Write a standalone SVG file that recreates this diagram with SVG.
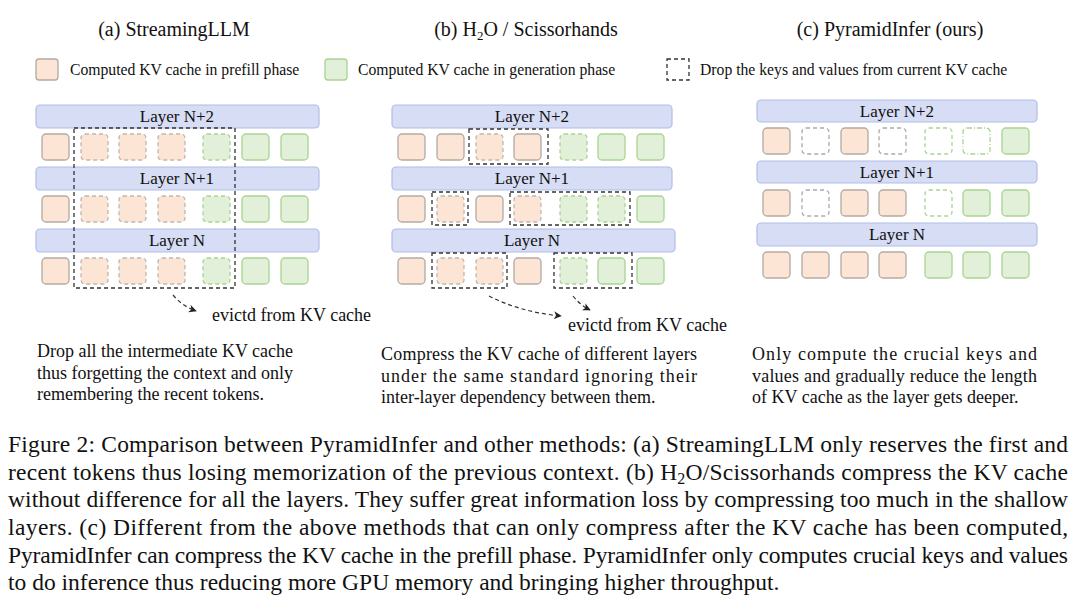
<svg xmlns="http://www.w3.org/2000/svg" width="1080" height="603" viewBox="0 0 1080 603" font-family="Liberation Serif, Tinos, Times New Roman, serif">
<style>
text{font-family:'Liberation Serif','Times New Roman',Tinos,serif;fill:#111}
.t{font-size:20px;text-anchor:middle}
.lg{font-size:15.7px}
.bar{fill:#d6ddf4;stroke:#b0bde8;stroke-width:1.2}
.bl{font-size:17px;text-anchor:middle}
.o{fill:#fce5d5;stroke:#b3aaa4;stroke-width:1.3}
.od{fill:#fce5d5;stroke:#c0b6b0;stroke-width:1.3;stroke-dasharray:4 3}
.g{fill:#e2f0d9;stroke:#a8d592;stroke-width:1.3}
.gd{fill:#e2f0d9;stroke:#a8d592;stroke-width:1.3;stroke-dasharray:4 3}
.ed{fill:#fff;stroke:#aaa;stroke-width:1.3;stroke-dasharray:4 3}
.egd{fill:#fff;stroke:#a8d592;stroke-width:1.3;stroke-dasharray:4 3}
.egdd{fill:#fff;stroke:#a8d592;stroke-width:1.3;stroke-dasharray:5 2 1 2}
.box{fill:none;stroke:#333;stroke-width:1.3;stroke-dasharray:4 3}
.ar{fill:none;stroke:#333;stroke-width:1.2;stroke-dasharray:4 3;marker-end:url(#ah)}
.p{font-size:18px}
.c{font-size:23.5px}
</style>
<defs>
<marker id="ah" viewBox="0 0 10 10" refX="9" refY="5" markerWidth="8" markerHeight="8" orient="auto" markerUnits="userSpaceOnUse"><path d="M0,0 L10,5 L0,10 L3,5 z" fill="#222"/></marker>
<rect id="sq" width="27" height="26" rx="4"/>
</defs>
<g id="titles">
<text class="t" x="174" y="36">(a) StreamingLLM</text>
<text class="t" x="526" y="36">(b) H<tspan font-size="13" dy="4">2</tspan><tspan dy="-4">O / Scissorhands</tspan></text>
<text class="t" x="890" y="36">(c) PyramidInfer (ours)</text>
</g>
<g id="legend">
<rect class="o" x="36" y="59" width="22" height="21" rx="3"/>
<text class="lg" x="70" y="75">Computed KV cache in prefill phase</text>
<rect class="g" x="325" y="59" width="22" height="21" rx="3"/>
<text class="lg" x="358" y="75">Computed KV cache in generation phase</text>
<rect class="box" x="667" y="59" width="22" height="21"/>
<text class="lg" x="700" y="75">Drop the keys and values from current KV cache</text>
</g>
<g id="panel-a">
<rect class="bar" x="36" y="105" width="283" height="23" rx="4"/><text class="bl" x="177" y="122">Layer N+2</text>
<rect class="bar" x="36" y="167" width="283" height="23" rx="4"/><text class="bl" x="177" y="184">Layer N+1</text>
<rect class="bar" x="36" y="229" width="283" height="23" rx="4"/><text class="bl" x="177" y="246">Layer N</text>
<g id="a-rows">
<use href="#sq" class="o" x="42" y="134"/><use href="#sq" class="od" x="81" y="134"/><use href="#sq" class="od" x="119" y="134"/><use href="#sq" class="od" x="158" y="134"/><use href="#sq" class="gd" x="203" y="134"/><use href="#sq" class="g" x="242" y="134"/><use href="#sq" class="g" x="281" y="134"/>
<use href="#sq" class="o" x="42" y="196"/><use href="#sq" class="od" x="81" y="196"/><use href="#sq" class="od" x="119" y="196"/><use href="#sq" class="od" x="158" y="196"/><use href="#sq" class="gd" x="203" y="196"/><use href="#sq" class="g" x="242" y="196"/><use href="#sq" class="g" x="281" y="196"/>
<use href="#sq" class="o" x="42" y="258"/><use href="#sq" class="od" x="81" y="258"/><use href="#sq" class="od" x="119" y="258"/><use href="#sq" class="od" x="158" y="258"/><use href="#sq" class="gd" x="203" y="258"/><use href="#sq" class="g" x="242" y="258"/><use href="#sq" class="g" x="281" y="258"/>
</g>
<rect class="box" x="74" y="128" width="161" height="160"/>
<text x="212" y="321" font-size="18">evictd from KV cache</text>
<text class="p" x="37" y="357">Drop all the intermediate KV cache</text>
<text class="p" x="37" y="379">thus forgetting the context and only</text>
<text class="p" x="37" y="400">remembering the recent tokens.</text>
</g>
<g id="panel-b">
<rect class="bar" x="392" y="105" width="280" height="23" rx="4"/><text class="bl" x="532" y="122">Layer N+2</text>
<rect class="bar" x="392" y="167" width="280" height="23" rx="4"/><text class="bl" x="532" y="184">Layer N+1</text>
<rect class="bar" x="392" y="229" width="283" height="23" rx="4"/><text class="bl" x="532" y="246">Layer N</text>
<use href="#sq" class="o" x="398" y="134"/><use href="#sq" class="o" x="437" y="134"/><use href="#sq" class="od" x="476" y="134"/><use href="#sq" class="o" x="514" y="134"/><use href="#sq" class="gd" x="560" y="134"/><use href="#sq" class="g" x="598" y="134"/><use href="#sq" class="g" x="637" y="134"/>
<use href="#sq" class="o" x="398" y="196"/><use href="#sq" class="od" x="437" y="196"/><use href="#sq" class="o" x="476" y="196"/><use href="#sq" class="od" x="514" y="196"/><use href="#sq" class="gd" x="560" y="196"/><use href="#sq" class="gd" x="598" y="196"/><use href="#sq" class="g" x="637" y="196"/>
<use href="#sq" class="o" x="398" y="258"/><use href="#sq" class="od" x="437" y="258"/><use href="#sq" class="od" x="476" y="258"/><use href="#sq" class="o" x="514" y="258"/><use href="#sq" class="gd" x="560" y="258"/><use href="#sq" class="g" x="598" y="258"/><use href="#sq" class="g" x="637" y="258"/>
<rect class="box" x="469" y="129" width="79" height="35"/>
<rect class="box" x="432" y="192" width="36" height="33"/>
<rect class="box" x="510" y="192" width="120" height="33"/>
<rect class="box" x="432" y="253" width="75" height="35"/>
<rect class="box" x="554" y="253" width="78" height="35"/>
<text x="568" y="331" font-size="18">evictd from KV cache</text>
<text class="p" x="381" y="360" textLength="316" lengthAdjust="spacing">Compress the KV cache of different layers</text>
<text class="p" x="381" y="382" textLength="316" lengthAdjust="spacing">under the same standard ignoring their</text>
<text class="p" x="381" y="403">inter-layer dependency between them.</text>
</g>
<g id="panel-c">
<rect class="bar" x="757" y="100" width="280" height="22" rx="4"/><text class="bl" x="897" y="117">Layer N+2</text>
<rect class="bar" x="757" y="161" width="280" height="22" rx="4"/><text class="bl" x="897" y="178">Layer N+1</text>
<rect class="bar" x="757" y="223" width="280" height="23" rx="4"/><text class="bl" x="897" y="240">Layer N</text>
<use href="#sq" class="o" x="763" y="128"/><use href="#sq" class="ed" x="802" y="128"/><use href="#sq" class="o" x="841" y="128"/><use href="#sq" class="ed" x="879" y="128"/><use href="#sq" class="egd" x="925" y="128"/><use href="#sq" class="egdd" x="963" y="128"/><use href="#sq" class="g" x="1002" y="128"/>
<use href="#sq" class="o" x="763" y="190"/><use href="#sq" class="ed" x="802" y="190"/><use href="#sq" class="o" x="841" y="190"/><use href="#sq" class="o" x="879" y="190"/><use href="#sq" class="egd" x="925" y="190"/><use href="#sq" class="g" x="963" y="190"/><use href="#sq" class="g" x="1002" y="190"/>
<use href="#sq" class="o" x="763" y="252"/><use href="#sq" class="o" x="802" y="252"/><use href="#sq" class="o" x="841" y="252"/><use href="#sq" class="o" x="879" y="252"/><use href="#sq" class="g" x="925" y="252"/><use href="#sq" class="g" x="963" y="252"/><use href="#sq" class="g" x="1002" y="252"/>
<text class="p" x="752" y="360" textLength="285" lengthAdjust="spacing">Only compute the crucial keys and</text>
<text class="p" x="752" y="382" textLength="285" lengthAdjust="spacing">values and gradually reduce the length</text>
<text class="p" x="752" y="403">of KV cache as the layer gets deeper.</text>
</g>
<g id="connectors">
<path class="ar" d="M173,295 Q182,306 196,311"/>
<path class="ar" d="M489,296 Q520,312 561,316"/>
<path class="ar" d="M573,296 Q580,305 590,310"/>
</g>
<g id="caption">
<text class="c" x="8" y="452" textLength="1060" lengthAdjust="spacing">Figure 2: Comparison between PyramidInfer and other methods: (a) StreamingLLM only reserves the first and</text>
<text class="c" x="8" y="480" textLength="1060" lengthAdjust="spacing">recent tokens thus losing memorization of the previous context. (b) H<tspan font-size="16" dy="4">2</tspan><tspan dy="-4">O/Scissorhands compress the KV cache</tspan></text>
<text class="c" x="8" y="507" textLength="1060" lengthAdjust="spacing">without difference for all the layers. They suffer great information loss by compressing too much in the shallow</text>
<text class="c" x="8" y="535" textLength="1060" lengthAdjust="spacing">layers. (c) Different from the above methods that can only compress after the KV cache has been computed,</text>
<text class="c" x="8" y="563" textLength="1060" lengthAdjust="spacing">PyramidInfer can compress the KV cache in the prefill phase. PyramidInfer only computes crucial keys and values</text>
<text class="c" x="8" y="590">to do inference thus reducing more GPU memory and bringing higher throughput.</text>
</g>
</svg>
